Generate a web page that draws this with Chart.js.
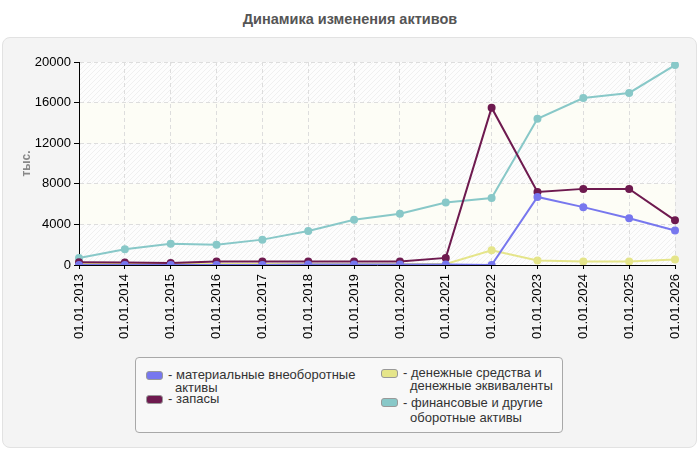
<!DOCTYPE html>
<html>
<head>
<meta charset="utf-8">
<script src="https://cdn.jsdelivr.net/npm/chart.js@4"></script>
<style>
  body { margin: 0; background: #fff; font-family: "Liberation Sans", Arial, sans-serif; }
  #wrap { position: relative; width: 700px; height: 450px; overflow: hidden; }
  #title { position: absolute; left: 0; top: 11px; width: 700px; text-align: center; font-weight: bold; font-size: 14.5px; color: #555; }
  #panel { position: absolute; left: 2px; top: 37px; width: 695px; height: 411px; background: #f4f4f4; border: 1px solid #e2e2e2; border-radius: 8px; box-sizing: border-box; }
  canvas { position: absolute; left: 0; top: 0; }
  #legend { position: absolute; left: 135px; top: 357px; width: 428px; height: 76px; border: 1px solid #a8a8a8; border-radius: 4px; background: #f8f8f8; box-sizing: border-box; font-size: 13px; color: #333; }
  .item { position: absolute; line-height: 13px; }
  .sw { position: absolute; left: -22px; top: 3px; width: 15px; height: 7px; border: 1px solid #999; border-radius: 3px; }
</style>
</head>
<body>
<div id="wrap">
  <div id="title">Динамика изменения активов</div>
  <div id="panel"></div>
  <canvas id="chart" width="700" height="450"></canvas>
  <div id="legend"></div>
</div>
<script>
var labels = ["01.01.2013", "01.01.2014", "01.01.2015", "01.01.2016", "01.01.2017", "01.01.2018", "01.01.2019",
  "01.01.2020", "01.01.2021", "01.01.2022", "01.01.2023", "01.01.2024", "01.01.2025", "01.01.2026"];

var tangible = [0, 0, 0, 0, 0, 50, 50, 50, 50, 0, 6700, 5700, 4600, 3400];
var stocks = [260, 250, 200, 350, 350, 350, 350, 350, 700, 15500, 7200, 7500, 7500, 4400];
var cash = [100, 100, 100, 100, 100, 100, 100, 100, 100, 1450, 450, 350, 350, 550];
var financial = [700, 1550, 2100, 2000, 2500, 3350, 4450, 5050, 6150, 6600, 14400, 16450, 16950, 19700];

var seriesNames = [
  "- материальные внеоборотные\nактивы",
  "- запасы",
  "- денежные средства и\nденежные эквиваленты",
  "- финансовые и другие\nоборотные активы"
];
var seriesColors = ["#7777ee", "#6e1a4f", "#e5e58a", "#88c8c8"];

function hatch(bg, line) {
  var c = document.createElement("canvas");
  c.width = 5; c.height = 5;
  var x = c.getContext("2d");
  x.fillStyle = bg;
  x.fillRect(0, 0, 5, 5);
  x.strokeStyle = line;
  x.lineWidth = 1;
  x.beginPath();
  x.moveTo(0, 5); x.lineTo(5, 0);
  x.moveTo(-1, 1); x.lineTo(1, -1);
  x.moveTo(4, 6); x.lineTo(6, 4);
  x.stroke();
  return x.createPattern(c, "repeat");
}

var bandPlugin = {
  id: "bands",
  beforeDraw: function (chart) {
    var ctx = chart.ctx, a = chart.chartArea, y = chart.scales.y;
    var pat = hatch("#fdfdfd", "#f0f0f0");
    ctx.save();
    for (var v = 0; v < 20000; v += 4000) {
      var top = y.getPixelForValue(v + 4000), bot = y.getPixelForValue(v);
      ctx.fillStyle = (v / 4000) % 2 === 0 ? pat : "#fdfdf6";
      ctx.fillRect(a.left, top, a.right - a.left, bot - top);
    }
    ctx.restore();
  }
};

function ds(label, data, color) {
  return {
    label: label, data: data, borderColor: color, backgroundColor: color,
    borderWidth: 2, pointRadius: 3, pointHoverRadius: 3, tension: 0
  };
}

new Chart(document.getElementById("chart"), {
  type: "line",
  data: {
    labels: labels,
    datasets: [
      ds(seriesNames[0], tangible, seriesColors[0]),
      ds(seriesNames[1], stocks, seriesColors[1]),
      ds(seriesNames[2], cash, seriesColors[2]),
      ds(seriesNames[3], financial, seriesColors[3])
    ]
  },
  options: {
    responsive: false,
    animation: false,
    layout: { padding: { left: 0, top: 62, right: 25, bottom: 0 } },
    plugins: { legend: { display: false }, tooltip: { enabled: false } },
    scales: {
      x: {
        afterFit: function (s) { s.height = 185; },
        grid: { color: "#dddddd", tickColor: "#000", tickLength: 4 },
        border: { color: "#000", dash: [4, 3] },
        ticks: { color: "#000", font: { size: 13, family: "Liberation Sans" }, maxRotation: 90, minRotation: 90, autoSkip: false, padding: 5 }
      },
      y: {
        min: 0, max: 20000,
        afterFit: function (s) { s.width = 79; },
        grid: { color: "#dddddd", tickColor: "#000", tickLength: 5 },
        border: { color: "#000", dash: [4, 3] },
        ticks: {
          color: "#000", stepSize: 4000, font: { size: 13, family: "Liberation Sans" }, padding: 3,
          callback: function (v) { return String(v); }
        },
        title: { display: true, text: "тыс.", color: "#888", font: { size: 12, weight: "bold", family: "Liberation Sans" }, padding: { top: 19, bottom: 0 } }
      }
    }
  },
  plugins: [bandPlugin]
});

var legendPos = [
  { left: 32, top: 10, lh: 13 }, { left: 32, top: 34, lh: 13 },
  { left: 267, top: 8, lh: 13 }, { left: 267, top: 37, lh: 15 }
];
var legendEl = document.getElementById("legend");
seriesNames.forEach(function (name, i) {
  var d = document.createElement("div");
  d.className = "item";
  d.style.left = legendPos[i].left + "px";
  d.style.top = legendPos[i].top + "px";
  d.style.lineHeight = legendPos[i].lh + "px";
  d.innerHTML = '<span class="sw" style="background:' + seriesColors[i] + '"></span>' +
    name.replace("\n", '<br><span style="padding-left:7px"></span>');
  legendEl.appendChild(d);
});
</script>
</body>
</html>
